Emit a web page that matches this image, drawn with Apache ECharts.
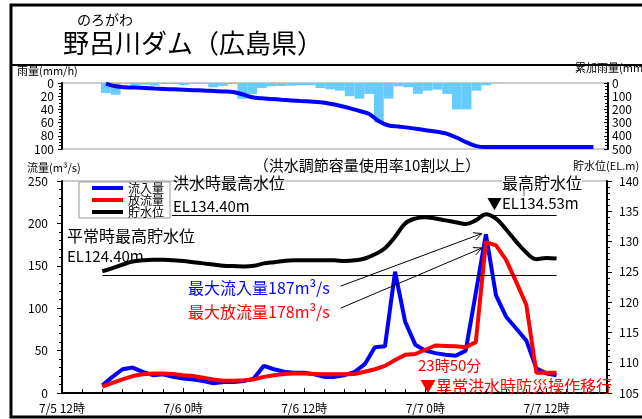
<!DOCTYPE html>
<html>
<head>
<meta charset="utf-8">
<script src="https://cdn.jsdelivr.net/npm/echarts@6/dist/echarts.min.js"></script>
<style>
html,body{margin:0;padding:0;background:#fff;}
#main{width:642px;height:419px;}
</style>
</head>
<body>
<div id="main"></div>
<script>
/* 上段：時間雨量と累加雨量（1時間枠、枠番号4から） */
var rainSlotCount = 56;
var rainStart = 4;
var rainValues = [15, 17.7, 1, 3.5, 2.5, 4, 1.5, 1.5, 3, 1, 1, 6.5, 4.5, 1.5, 24, 16.7, 7.6, 5, 4.5, 4,
    3.5, 3.5, 7.6, 9.5, 11.6, 20, 23.7, 16.5, 60, 23.7, 5, 6.5, 16.5, 11.6, 10, 16.5, 40, 40, 11.6, 3.5, 0.5];
var cumStart = 4;
var cumValues = [5, 25, 32, 35, 38, 42, 45, 48, 51, 54, 56, 60, 64, 68, 85, 108, 116, 121, 127, 132,
    137, 141, 146, 157, 172, 190, 212, 235, 290, 322, 330, 338, 348, 360, 370, 385, 415, 450, 478, 485,
    485, 485, 485, 485, 485, 485, 485, 485, 485, 485, 485];

/* 下段：流入量・放流量・貯水位（7/5 12時からの経過時間、4時間目から1時間毎） */
var flowStart = 4;
var inflow = [9, 19, 28, 30, 25, 21, 22, 19, 17, 16,
    14, 11.5, 13, 13, 14, 17, 32, 28, 25, 24,
    24, 22, 19, 19, 21, 25, 34, 54, 55, 143,
    84, 57, 50, 47, 45, 44, 50, 118, 187, 115,
    90, 76, 62, 29, 23, 21];
var outflow = [7.5, 12, 16, 20, 22, 23, 23, 22.5, 21, 20,
    18, 16, 14.5, 14.5, 15, 16, 19, 21, 22.5, 23,
    23, 22.5, 22, 22, 22, 22.5, 25, 28, 32, 39,
    45, 46, 51, 56, 55.5, 55, 54, 60, 178, 174,
    157, 131, 104, 24, 24, 24];
var level = [125.1, 125.6, 126.2, 126.7, 126.9, 127.0, 127.0, 126.9, 126.8, 126.6,
    126.4, 126.2, 126.0, 125.95, 125.9, 126.0, 126.4, 126.6, 126.8, 126.9,
    126.9, 126.9, 126.9, 126.9, 126.8, 126.9, 127.2, 127.9, 128.9, 130.8,
    133.0, 133.8, 134.0, 133.8, 133.5, 133.2, 132.9, 133.5, 134.53, 133.8,
    132.0, 130.0, 128.2, 127.1, 127.3, 127.2];
var xLabels = ['7/5 12時', '7/6 0時', '7/6 12時', '7/7 0時', '7/7 12時'];
var legendNames = ['流入量', '放流量', '貯水位'];
/* 洪水時最高水位・平常時最高貯水位の線 [開始時間, 終了時間, 水位] */
var surchargeLine = [10.9, 49, 134.4];
var normalLine = [4, 49, 124.4];
/* 矢印 [開始時間, 開始流量, 終了時間, 終了流量] */
var arrows = [[27.6, 126, 41.6, 188], [27.6, 100, 41.6, 171]];

var FONT = 'Noto Sans CJK JP';

/* データ組立 */
var rainSlots = [];
var rainData = [];
var cumData = [];
for (var k = 0; k < rainSlotCount; k++) {
    rainSlots.push(String(k));
    var ri = k - rainStart;
    rainData.push(ri >= 0 && ri < rainValues.length ? rainValues[ri] : '-');
    var ci = k - cumStart;
    cumData.push(ci >= 0 && ci < cumValues.length ? cumValues[ci] : '-');
}
function pairs(arr) {
    var out = [];
    for (var i = 0; i < arr.length; i++) out.push([flowStart + i, arr[i]]);
    return out;
}

var myChart = echarts.init(document.getElementById('main'));
var axisLineBlack = { show: true, lineStyle: { color: '#000', width: 2 } };
var labelStyle = { color: '#000', fontFamily: FONT, fontSize: 12 };

option = {
    animation: false,
    backgroundColor: '#fff',
    textStyle: { fontFamily: FONT },
    legend: {
        data: legendNames,
        orient: 'vertical',
        left: 79,
        top: 182,
        icon: 'rect',
        itemWidth: 31,
        itemHeight: 4,
        itemGap: 0,
        padding: [0, 6, 0, 13],
        backgroundColor: '#fff',
        borderColor: '#999',
        borderWidth: 1,
        borderRadius: 0,
        textStyle: { fontSize: 12, lineHeight: 11.5, color: '#000', fontFamily: FONT }
    },
    grid: [
        { left: 62, right: 34, top: 83, height: 66, show: true, borderColor: '#999', borderWidth: 1 },
        { left: 62, right: 32, top: 181, height: 212, show: true, borderColor: '#999', borderWidth: 1 }
    ],
    xAxis: [
        {
            type: 'category', gridIndex: 0, data: rainSlots, boundaryGap: true,
            axisLine: { show: false }, axisTick: { show: false }, axisLabel: { show: false }
        },
        {
            type: 'value', gridIndex: 1, min: 0, max: 54, interval: 12,
            axisLine: axisLineBlack,
            axisTick: { show: true, inside: true, length: 5, lineStyle: { color: '#000' } },
            minorTick: { show: true, splitNumber: 6, length: 4, lineStyle: { color: '#000' } },
            splitLine: { show: false },
            axisLabel: Object.assign({ margin: 9, formatter: function (v) { return xLabels[v / 12] || ''; } }, labelStyle)
        }
    ],
    yAxis: [
        {
            type: 'value', gridIndex: 0, inverse: true, min: 0, max: 100, interval: 20,
            axisLine: axisLineBlack,
            axisTick: { show: true, length: 4, lineStyle: { color: '#000' } },
            minorTick: { show: true, splitNumber: 4, length: 3, lineStyle: { color: '#000' } },
            splitLine: { show: false },
            axisLabel: Object.assign({ margin: 8 }, labelStyle)
        },
        {
            type: 'value', gridIndex: 0, inverse: true, min: 0, max: 500, interval: 100, position: 'right',
            axisLine: axisLineBlack,
            axisTick: { show: true, inside: true, length: 4, lineStyle: { color: '#000' } },
            minorTick: { show: true, splitNumber: 4, length: 3, lineStyle: { color: '#000' } },
            splitLine: { show: false },
            axisLabel: Object.assign({ margin: 4 }, labelStyle)
        },
        {
            type: 'value', gridIndex: 1, min: 0, max: 250, interval: 50,
            axisLine: axisLineBlack,
            axisTick: { show: true, length: 5, lineStyle: { color: '#000' } },
            minorTick: { show: true, splitNumber: 5, length: 3, lineStyle: { color: '#000' } },
            splitLine: { show: false },
            axisLabel: Object.assign({ margin: 14 }, labelStyle)
        },
        {
            type: 'value', gridIndex: 1, min: 105, max: 140, interval: 5, position: 'right',
            axisLine: axisLineBlack,
            axisTick: { show: true, length: 5, lineStyle: { color: '#000' } },
            minorTick: { show: true, splitNumber: 5, length: 3, lineStyle: { color: '#000' } },
            splitLine: { show: false },
            axisLabel: Object.assign({ margin: 12 }, labelStyle)
        }
    ],
    series: [
        {
            name: '時間雨量', type: 'bar', xAxisIndex: 0, yAxisIndex: 0,
            data: rainData, barCategoryGap: '0%',
            itemStyle: { color: '#66ccff' }
        },
        {
            name: '累加雨量', type: 'line', xAxisIndex: 0, yAxisIndex: 1,
            data: cumData, showSymbol: false, smooth: 0.3,
            lineStyle: { color: '#0000ff', width: 4 }
        },
        {
            name: '流入量', type: 'line', xAxisIndex: 1, yAxisIndex: 2,
            data: pairs(inflow), showSymbol: false,
            color: '#0000ff',
            lineStyle: { color: '#0000ff', width: 4 }
        },
        {
            name: '放流量', type: 'line', xAxisIndex: 1, yAxisIndex: 2,
            data: pairs(outflow), showSymbol: false,
            color: '#ff0000',
            lineStyle: { color: '#ff0000', width: 4 }
        },
        {
            name: '貯水位', type: 'line', xAxisIndex: 1, yAxisIndex: 3,
            data: pairs(level), showSymbol: false, smooth: 0.4,
            color: '#000',
            lineStyle: { color: '#000', width: 4 },
            markLine: {
                silent: true, symbol: 'none', label: { show: false },
                lineStyle: { color: '#000', width: 1, type: 'solid' },
                data: [
                    [{ coord: [surchargeLine[0], surchargeLine[2]] }, { coord: [surchargeLine[1], surchargeLine[2]] }],
                    [{ coord: [normalLine[0], normalLine[2]] }, { coord: [normalLine[1], normalLine[2]] }]
                ]
            }
        }
    ]
};
myChart.setOption(option);

/* 文字・枠・矢印 */
function txt(x, y, s, size, color, extra) {
    var st = { text: s, x: x, y: y, fontSize: size, fontFamily: FONT, fill: color || '#000', verticalAlign: 'middle' };
    if (extra) Object.assign(st, extra);
    return { type: 'text', z: 100, style: st };
}
var g = [
    { type: 'rect', z: 200, shape: { x: 11, y: 5, width: 640, height: 412 }, style: { fill: 'none', stroke: '#000', lineWidth: 3 } },
    { type: 'line', z: 200, shape: { x1: 11, y1: 65, x2: 642, y2: 65 }, style: { stroke: '#000', lineWidth: 2 } },
    txt(77, 20, 'のろがわ', 14),
    txt(63, 43, '野呂川ダム（広島県）', 26),
    txt(17, 71, '雨量(mm/h)', 11),
    txt(575, 68, '累加雨量(mm)', 11),
    txt(27, 168, '流量(m³/s)', 11),
    txt(573, 166, '貯水位(EL.m)', 11),
    txt(367, 165, '（洪水調節容量使用率10割以上）', 15, '#000', { align: 'center' }),
    txt(173, 183, '洪水時最高水位', 16),
    txt(173, 206, 'EL134.40m', 15),
    txt(67, 236, '平常時最高貯水位', 16),
    txt(67, 256, 'EL124.40m', 15),
    txt(502, 183, '最高貯水位', 16, '#000', { backgroundColor: '#fff' }),
    { type: 'line', z: 100, shape: { x1: 524, y1: 189, x2: 524, y2: 196 }, style: { stroke: '#666', lineWidth: 1 } },
    txt(487, 203, '▼EL134.53m', 15),
    txt(188, 288, '最大流入量187m³/s', 16, '#0000ff'),
    txt(188, 312, '最大放流量178m³/s', 16, '#ff0000'),
    txt(418, 365, '23時50分', 15, '#ff0000'),
    txt(420, 386, '▼異常洪水時防災操作移行', 16, '#ff0000')
];
arrows.forEach(function (a) {
    var p0 = myChart.convertToPixel({ xAxisIndex: 1, yAxisIndex: 2 }, [a[0], a[1]]);
    var p1 = myChart.convertToPixel({ xAxisIndex: 1, yAxisIndex: 2 }, [a[2], a[3]]);
    var ang = Math.atan2(p1[1] - p0[1], p1[0] - p0[0]);
    var L = 9, s = 0.45;
    var h1 = [p1[0] - L * Math.cos(ang - s), p1[1] - L * Math.sin(ang - s)];
    var h2 = [p1[0] - L * Math.cos(ang + s), p1[1] - L * Math.sin(ang + s)];
    g.push({ type: 'polyline', z: 100, shape: { points: [p0, p1] }, style: { stroke: '#000', lineWidth: 1, fill: null } });
    g.push({ type: 'polyline', z: 100, shape: { points: [h1, p1, h2] }, style: { stroke: '#000', lineWidth: 1, fill: null } });
});
myChart.setOption({ graphic: g });
</script>
</body>
</html>
